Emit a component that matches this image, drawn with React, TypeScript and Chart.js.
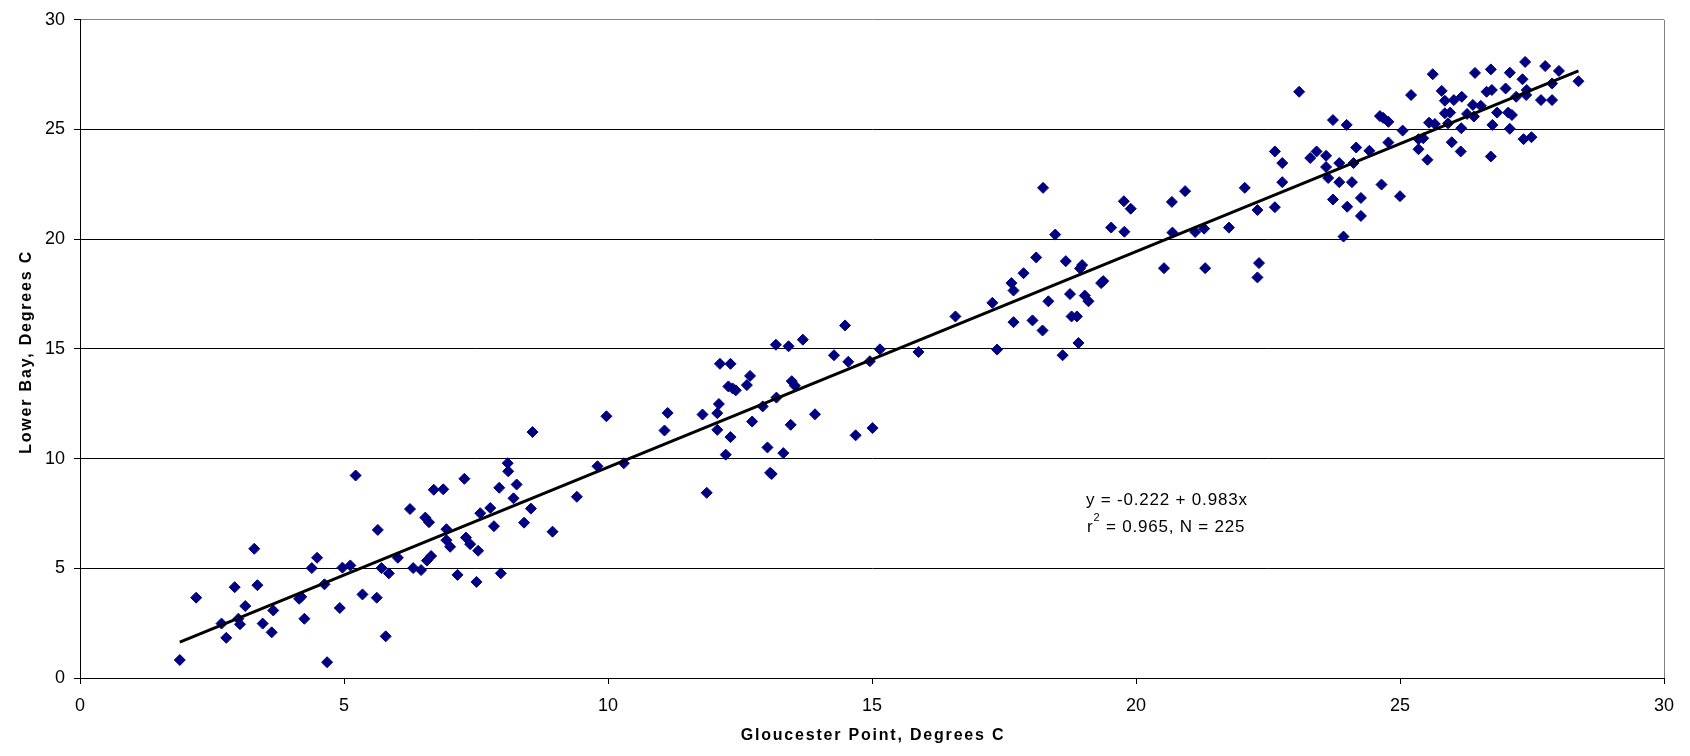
import React, { useEffect, useRef } from "react";
import { Chart, registerables } from "chart.js";

Chart.register(...registerables);

// Gloucester Point temperatures (x), Degrees C
const gloucesterPoint = [
  1.89, 2.2, 2.68, 2.77, 2.93, 3.0, 3.03, 3.13, 3.3, 3.36, 3.46, 3.63, 3.66, 4.15, 4.19, 4.25, 4.39, 4.49, 4.63, 4.68,
  4.92, 4.97, 5.12, 5.22, 5.35, 5.62, 5.64, 5.71, 5.79, 5.85, 6.02, 6.25, 6.31, 6.46, 6.54, 6.61, 6.57, 6.65, 6.7,
  6.88, 6.94, 6.94, 7.01, 7.15, 7.28, 7.31, 7.39, 7.51, 7.54, 7.58, 7.77, 7.84, 7.94, 7.97, 8.1, 8.11, 8.21, 8.27,
  8.41, 8.54, 8.57, 8.95, 9.41, 9.8, 9.97, 10.3, 11.07, 11.13,
  11.79, 11.87, 12.07, 12.07, 12.1, 12.12, 12.23, 12.32, 12.32, 12.28, 12.36, 12.42, 12.63, 12.69, 12.73, 12.93,
  13.02, 13.07, 13.1, 13.18, 13.19, 13.32, 13.42, 13.46, 13.48, 13.54, 13.69, 13.92, 14.28, 14.49, 14.55, 14.69,
  14.96, 15.01, 15.15, 15.88,
  16.58, 17.28, 17.37, 17.64, 17.68, 17.68, 17.87, 18.04, 18.11, 18.23, 18.24, 18.34, 18.47, 18.61, 18.67, 18.75,
  18.78, 18.88, 18.91, 18.94, 18.98, 19.03, 19.1, 19.34, 19.38, 19.53, 19.77, 19.9, 19.78,
  20.53, 20.68, 20.69, 20.93, 21.12, 21.29, 21.31, 21.76, 22.06, 22.3, 22.33, 22.3, 22.63, 22.63, 22.77, 22.77,
  23.09, 23.3, 23.42, 23.6, 23.6, 23.64, 23.73, 23.73, 23.85, 23.85, 23.93, 23.99, 24.0, 24.09, 24.12, 24.17, 24.26,
  24.26, 24.42, 24.62, 24.68, 24.78, 24.65, 24.78, 25.0,
  25.05, 25.21, 25.35, 25.35, 25.44, 25.52, 25.55, 25.66, 25.62, 25.79, 25.85, 25.85, 25.95, 25.91, 25.98, 26.02,
  26.15, 26.16, 26.17, 26.27, 26.38, 26.4, 26.42, 26.53, 26.64, 26.74, 26.72, 26.72, 26.75, 26.84, 27.0, 27.05,
  27.12, 27.08, 27.08, 27.2, 27.32, 27.34, 27.49, 27.37, 27.39, 27.4, 27.67, 27.75, 27.88, 27.88, 28.01, 28.38,
];

// Lower Bay temperatures (y), Degrees C
const lowerBay = [
  0.82, 3.66, 2.48, 1.83, 4.14, 2.7, 2.45, 3.28, 5.89, 4.23, 2.48, 2.08, 3.08, 3.61, 3.7, 2.7, 5.01, 5.48, 4.27, 0.72,
  3.19, 5.03, 5.13, 9.23, 3.81, 3.66, 6.75, 5.01, 1.9, 4.77, 5.48, 7.7, 5.01, 4.92, 7.31, 7.1, 5.35, 5.56, 8.58,
  8.6, 6.78, 6.28, 5.98, 4.7, 9.08, 6.4, 6.1, 4.38, 5.8, 7.51, 7.75, 6.92, 8.67, 4.77, 9.79, 9.42, 8.19, 8.82,
  7.08, 7.72, 11.21, 6.67, 8.26, 9.65, 11.93, 9.79, 11.28, 12.08,
  12.01, 8.44, 11.31, 12.07, 12.49, 14.32, 10.18, 14.32, 10.98, 13.29, 13.2, 13.11, 13.35, 13.77, 11.69, 12.38,
  10.51, 9.35, 9.3, 15.19, 12.78, 10.25, 15.12, 11.54, 13.53, 13.32, 15.42, 12.02, 14.71, 16.07, 14.41, 11.06,
  14.44, 11.39, 14.98, 14.86,
  16.48, 17.1, 14.97, 18.0, 17.66, 16.22, 18.45, 16.3, 19.17, 15.84, 22.34, 17.17, 20.21, 14.71, 19.0, 17.5,
  16.48, 16.48, 15.27, 18.67, 18.82, 17.43, 17.17, 18.0, 18.09, 20.53, 21.73, 21.39, 20.34,
  18.68, 21.7, 20.3, 22.19, 20.33, 20.48, 18.68, 20.53, 22.34, 21.33, 18.91, 18.26, 24.0, 21.46, 23.47, 22.6,
  26.72, 23.7, 24.0, 23.8, 23.29, 22.79, 25.43, 21.81, 23.47, 22.6, 20.12, 25.21, 21.48, 22.6, 23.47, 24.18, 21.88,
  21.06, 24.03, 25.61, 25.53, 25.35, 22.49, 24.41, 21.96,
  24.95, 26.57, 24.56, 24.1, 24.6, 23.62, 25.31, 25.25, 27.52, 26.76, 26.31, 25.74, 25.77, 25.28, 24.42, 26.34,
  24.0, 25.06, 26.49, 25.71, 26.12, 25.59, 27.58, 26.08, 26.72, 26.8, 27.74, 23.77, 25.21, 25.77, 26.87, 25.77,
  25.66, 27.59, 25.03, 26.49, 27.29, 24.56, 24.65, 28.08, 26.57, 26.8, 26.34, 27.89, 27.1, 26.34, 27.67, 27.2,
];

// Regression line end points (y = -0.222 + 0.983x)
const trendX = [1.89, 28.38];
const trendY = [1.636, 27.676];

const axisMin = 0;
const axisMax = 30;
const tickStep = 5;

const xTitle = "Gloucester Point, Degrees C";
const yTitle = "Lower Bay, Degrees C";
const eqLine1 = "y = -0.222 + 0.983x";
const eqLine2Prefix = "r";
const eqLine2Sup = "2";
const eqLine2Rest = " = 0.965, N = 225";

const FONT = '"Liberation Sans", Arial, Helvetica, sans-serif';

const textPlugin = {
  id: "customTexts",
  afterDraw(chart: any) {
    const ctx = chart.ctx as CanvasRenderingContext2D;
    const ca = chart.chartArea;
    ctx.save();
    ctx.fillStyle = "#000";
    ctx.textBaseline = "alphabetic";

    // Axis titles
    (ctx as any).letterSpacing = "1.8px";
    ctx.font = `bold 16px ${FONT}`;
    ctx.textAlign = "center";
    ctx.fillText(xTitle, (ca.left + ca.right) / 2 + 1, 740);

    ctx.save();
    ctx.translate(31, (ca.top + ca.bottom) / 2 + 3);
    ctx.rotate(-Math.PI / 2);
    ctx.fillText(yTitle, 0, 0);
    ctx.restore();

    // Regression annotation
    (ctx as any).letterSpacing = "0.8px";
    ctx.textAlign = "left";
    ctx.font = `17px ${FONT}`;
    const x0 = 1086;
    ctx.fillText(eqLine1, x0, 505);
    let x = x0 + 1;
    const y2 = 531.5;
    ctx.fillText(eqLine2Prefix, x, y2);
    x += ctx.measureText(eqLine2Prefix).width;
    ctx.font = `11px ${FONT}`;
    ctx.fillText(eqLine2Sup, x, y2 - 11);
    x += ctx.measureText(eqLine2Sup).width;
    ctx.font = `17px ${FONT}`;
    ctx.fillText(eqLine2Rest, x, y2);
    (ctx as any).letterSpacing = "0px";
    ctx.restore();
  },
};

export default function App() {
  const canvasRef = useRef<HTMLCanvasElement | null>(null);

  useEffect(() => {
    const canvas = canvasRef.current;
    if (!canvas) return;

    const points = gloucesterPoint.map((gx, i) => ({ x: gx, y: lowerBay[i] }));
    const trend = trendX.map((tx, i) => ({ x: tx, y: trendY[i] }));

    const chart = new Chart(canvas, {
      type: "scatter",
      data: {
        datasets: [
          {
            type: "line",
            label: "Regression",
            data: trend,
            borderColor: "#000000",
            borderWidth: 3,
            pointRadius: 0,
            fill: false,
            order: 0,
          } as any,
          {
            type: "scatter",
            label: "Observations",
            data: points,
            pointStyle: "rectRot",
            pointRadius: 5.5,
            pointHoverRadius: 5.5,
            backgroundColor: "#000080",
            borderColor: "#000080",
            borderWidth: 1,
            order: 1,
          },
        ],
      },
      options: {
        responsive: false,
        animation: false,
        events: [],
        layout: { padding: { top: 16, right: 26, left: 0, bottom: 0 } },
        plugins: {
          legend: { display: false },
          tooltip: { enabled: false },
          title: { display: false },
        },
        scales: {
          x: {
            type: "linear",
            min: axisMin,
            max: axisMax,
            afterFit: (s: any) => {
              s.height = 78;
            },
            ticks: {
              stepSize: tickStep,
              color: "#000",
              padding: 11,
              font: { family: FONT, size: 18 },
              maxRotation: 0,
            },
            grid: {
              color: (c: any) => (c.tick && c.tick.value === axisMax ? "#808080" : "rgba(0,0,0,0)"),
              tickColor: "#000",
              tickLength: 6,
              lineWidth: 1,
            },
            border: { color: "#000", width: 1 },
          },
          y: {
            type: "linear",
            min: axisMin,
            max: axisMax,
            afterFit: (s: any) => {
              s.width = 80;
            },
            ticks: {
              stepSize: tickStep,
              color: "#000",
              padding: 9,
              font: { family: FONT, size: 18 },
            },
            grid: {
              color: (c: any) => (c.tick && c.tick.value === axisMax ? "#808080" : "#000"),
              tickColor: "#000",
              tickLength: 6,
              lineWidth: 1,
            },
            border: { color: "#000", width: 1 },
          },
        },
      },
      plugins: [textPlugin],
    });

    return () => {
      chart.destroy();
    };
  }, []);

  return (
    <div style={{ position: "absolute", left: 0, top: 0, width: 1690, height: 756, background: "#fff" }}>
      <canvas ref={canvasRef} width={1690} height={756} style={{ display: "block" }} />
    </div>
  );
}
